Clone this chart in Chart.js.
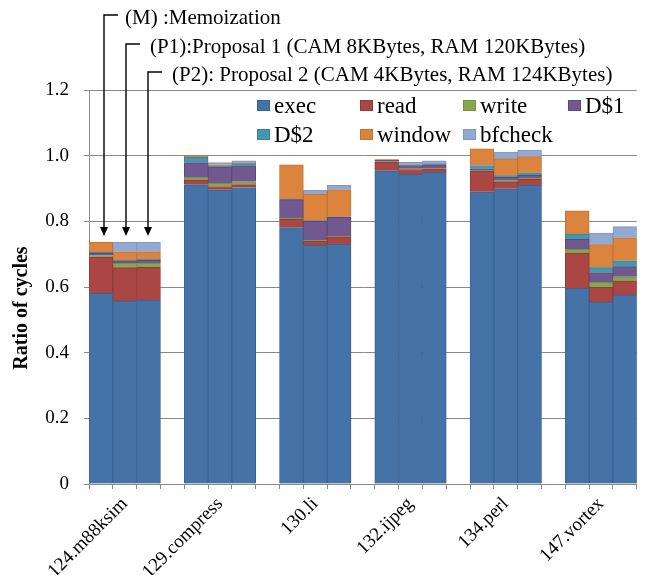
<!DOCTYPE html>
<html>
<head>
<meta charset="utf-8">
<script src="https://cdn.jsdelivr.net/npm/chart.js@4.4.1/dist/chart.umd.min.js"></script>
<style>
    html, body { margin: 0; padding: 0; background: #fff; overflow: hidden; }
    #wrap { width: 645px; height: 575px; }
</style>
</head>
<body>
<div id="wrap"><canvas id="cycleChart" width="645" height="575"></canvas></div>
<script>
// Benchmarks, each one drawn as three bars: (M), (P1), (P2)
const benchmarks = ['124.m88ksim', '129.compress', '130.li', '132.ijpeg', '134.perl', '147.vortex'];

// Cycle breakdown, three values per benchmark in order M, P1, P2
const execVals    = [0.581, 0.557, 0.560,  0.912, 0.896, 0.903,  0.781, 0.727, 0.730,  0.954, 0.944, 0.950,  0.890, 0.899, 0.910,  0.596, 0.554, 0.576];
const readVals    = [0.109, 0.102, 0.100,  0.014, 0.010, 0.009,  0.025, 0.013, 0.022,  0.026, 0.014, 0.010,  0.062, 0.021, 0.018,  0.107, 0.045, 0.042];
const writeVals   = [0.006, 0.013, 0.013,  0.007, 0.010, 0.009,  0.003, 0.003, 0.003,  0.002, 0.002, 0.002,  0.002, 0.004, 0.004,  0.012, 0.015, 0.013];
const dcache1Vals = [0.007, 0.008, 0.009,  0.046, 0.049, 0.048,  0.057, 0.057, 0.057,  0.004, 0.010, 0.010,  0.006, 0.010, 0.008,  0.030, 0.030, 0.031];
const dcache2Vals = [0.003, 0.002, 0.002,  0.016, 0.003, 0.006,  0.002, 0.002, 0.002,  0.000, 0.001, 0.002,  0.010, 0.005, 0.008,  0.016, 0.015, 0.018];
const windowVals  = [0.031, 0.025, 0.023,  0.005, 0.004, 0.002,  0.104, 0.081, 0.082,  0.002, 0.001, 0.001,  0.051, 0.051, 0.049,  0.071, 0.070, 0.070];
const bfcheckVals = [0.000, 0.030, 0.030,  0.000, 0.007, 0.007,  0.000, 0.012, 0.014,  0.000, 0.008, 0.009,  0.000, 0.021, 0.020,  0.000, 0.035, 0.034];

const yTicks = [0, 0.2, 0.4, 0.6, 0.8, 1.0, 1.2];

const seriesNames = ['exec', 'read', 'write', 'D$1', 'D$2', 'window', 'bfcheck'];
const seriesVals = [execVals, readVals, writeVals, dcache1Vals, dcache2Vals, windowVals, bfcheckVals];
const fillColors = ['#4572A7', '#AA4643', '#89A54E', '#71588F', '#4198AF', '#DB843D', '#93A9CF'];
const edgeColors = ['#3A6394', '#923A37', '#769043', '#5E4879', '#35849A', '#C27232', '#7F97C0'];

const notes = [
    '(M) :Memoization',
    '(P1):Proposal 1 (CAM 8KBytes, RAM 120KBytes)',
    '(P2): Proposal 2 (CAM 4KBytes, RAM 124KBytes)'
];

const SERIF = '"Liberation Serif", "Times New Roman", serif';

// Spread the triples over category slots, with an empty slot between benchmarks
const slotLabels = [];
const slotIndex = []; // slot -> index into value arrays, or -1 for a gap
benchmarks.forEach((name, b) => {
    for (let k = 0; k < 3; k++) {
        slotLabels.push(k === 1 ? name : '');
        slotIndex.push(b * 3 + k);
    }
    if (b < benchmarks.length - 1) {
        slotLabels.push('');
        slotIndex.push(-1);
    }
});

const datasets = seriesNames.map((name, i) => ({
    label: name,
    data: slotIndex.map(idx => (idx < 0 ? null : seriesVals[i][idx])),
    backgroundColor: fillColors[i],
    borderColor: edgeColors[i],
    borderWidth: 1,
    barPercentage: 1.0,
    categoryPercentage: 1.0
}));

// Legend in a fixed 4-column grid, like the original
const gridLegend = {
    id: 'gridLegend',
    afterDraw(chart) {
        const ctx = chart.ctx;
        const colX = [257, 360, 463, 568];
        const rowY = [100, 129];
        ctx.save();
        ctx.font = '23px ' + SERIF;
        ctx.textBaseline = 'alphabetic';
        ctx.textAlign = 'left';
        chart.data.datasets.forEach((ds, i) => {
            const x = colX[i % 4];
            const y = rowY[Math.floor(i / 4)];
            ctx.fillStyle = ds.backgroundColor;
            ctx.fillRect(x, y, 13, 11);
            ctx.strokeStyle = ds.borderColor;
            ctx.lineWidth = 1;
            ctx.strokeRect(x + 0.5, y + 0.5, 12, 10);
            ctx.fillStyle = '#000';
            ctx.fillText(ds.label, x + 17, y + 13);
        });
        ctx.restore();
    }
};

// Arrows naming the three bars of the first group, plus the y title
const noteArrows = {
    id: 'noteArrows',
    afterDraw(chart) {
        const ctx = chart.ctx;
        const ys = chart.scales.y;
        const arrowX = [104, 126, 148];
        const textX = [125, 150, 172];
        const lineY = [15, 44, 72];
        ctx.save();
        ctx.font = '21px ' + SERIF;
        ctx.fillStyle = '#000';
        ctx.strokeStyle = '#000';
        ctx.lineWidth = 1.4;
        ctx.textBaseline = 'middle';
        notes.forEach((txt, k) => {
            const x = arrowX[k];
            let total = 0;
            seriesVals.forEach(arr => { total += arr[k]; });
            const tip = ys.getPixelForValue(total) - 6;
            ctx.beginPath();
            ctx.moveTo(x + 14, lineY[k]);
            ctx.lineTo(x, lineY[k]);
            ctx.lineTo(x, tip - 8);
            ctx.stroke();
            ctx.beginPath();
            ctx.moveTo(x - 4, tip - 9);
            ctx.lineTo(x + 4, tip - 9);
            ctx.lineTo(x, tip);
            ctx.closePath();
            ctx.fill();
            ctx.fillText(txt, textX[k], lineY[k] + 3);
        });

        ctx.translate(22, 308);
        ctx.rotate(-Math.PI / 2);
        ctx.font = 'bold 20px ' + SERIF;
        ctx.textAlign = 'center';
        ctx.fillText('Ratio of cycles', 0, 0);
        ctx.restore();
    }
};

new Chart(document.getElementById('cycleChart'), {
    type: 'bar',
    data: { labels: slotLabels, datasets },
    options: {
        responsive: false,
        animation: false,
        layout: { padding: { top: 90, left: 0, right: 0, bottom: 0 } },
        plugins: {
            legend: { display: false },
            tooltip: { enabled: false }
        },
        scales: {
            x: {
                stacked: true,
                offset: true,
                grid: { offset: true, drawOnChartArea: false, drawTicks: true, tickLength: 5, color: '#898989' },
                border: { color: '#898989' },
                ticks: {
                    autoSkip: false,
                    minRotation: 45,
                    maxRotation: 45,
                    color: '#000',
                    padding: 4,
                    font: { family: SERIF, size: 19 }
                },
                afterFit(scale) { scale.height = 91; }
            },
            y: {
                stacked: true,
                min: 0,
                max: 1.2,
                grid: { color: '#898989', tickLength: 5 },
                border: { color: '#898989' },
                ticks: {
                    color: '#000',
                    padding: 15,
                    font: { family: SERIF, size: 19 },
                    callback: v => (v === 0 ? '0' : v.toFixed(1))
                },
                afterBuildTicks(scale) { scale.ticks = yTicks.map(v => ({ value: v })); },
                afterFit(scale) { scale.width = 89; }
            }
        }
    },
    plugins: [gridLegend, noteArrows]
});
</script>
</body>
</html>
